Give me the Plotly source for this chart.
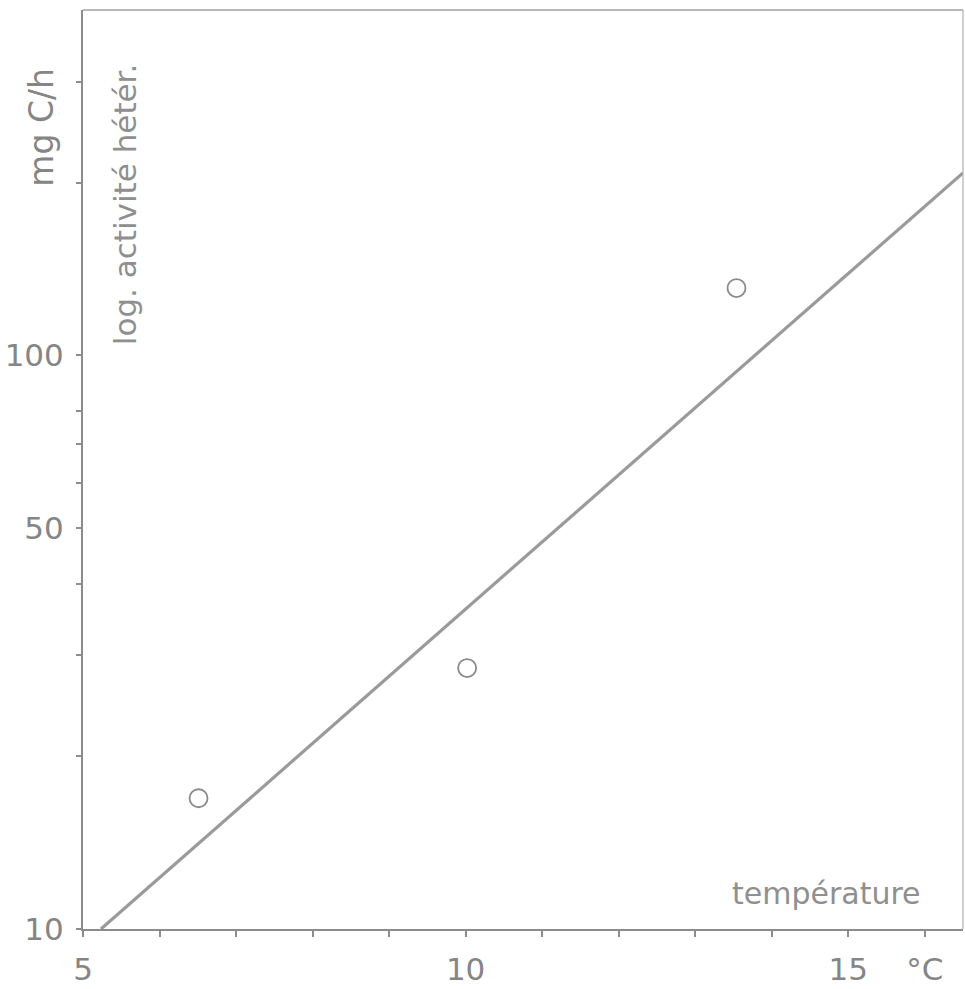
import plotly.graph_objects as go

# data
temp_points = [6.51, 10.02, 13.54]
activity_points = [16.9, 28.5, 131.0]
fit_temp = [5.235, 16.5]
fit_activity = [10.0, 208.0]

x_tick_vals = [5, 6, 7, 8, 9, 10, 11, 12, 13, 14, 15, 16]
x_tick_text = ["5", "", "", "", "", "10", "", "", "", "", "15", "°C"]
y_tick_vals = [10, 20, 30, 40, 50, 60, 70, 80, 100, 200, 300]
y_tick_text = ["10", "", "", "", "50", "", "", "", "100", "", ""]

GRAY = "#8c8c8c"
TXT = "#858585"
FONT = "DejaVu Sans"

fig = go.Figure()
fig.add_trace(go.Scatter(x=fit_temp, y=fit_activity, mode="lines",
                         line=dict(color="#9a9a9a", width=3.2), showlegend=False))
fig.add_trace(go.Scatter(x=temp_points, y=activity_points, mode="markers",
                         marker=dict(symbol="circle-open", size=18, color="#8a8a8a",
                                     line=dict(width=1.8, color="#8a8a8a")),
                         showlegend=False))

fig.update_layout(
    width=965, height=989,
    margin=dict(l=83, r=2, t=10, b=56),
    paper_bgcolor="white", plot_bgcolor="white",
    font=dict(family=FONT, color=TXT),
    xaxis=dict(range=[5, 16.5], tickvals=x_tick_vals, ticktext=x_tick_text,
               showgrid=False, zeroline=False, showline=True, mirror=False,
               linecolor=GRAY, linewidth=2, ticks="outside", ticklen=6,
               tickcolor=GRAY, tickwidth=1.5, ticklabelstandoff=6,
               tickfont=dict(size=31, color=TXT)),
    yaxis=dict(type="log", range=[1, 2.602], tickvals=y_tick_vals, ticktext=y_tick_text,
               showgrid=False, zeroline=False, showline=True, mirror=False,
               linecolor=GRAY, linewidth=2, ticks="outside", ticklen=5,
               tickcolor=GRAY, tickwidth=1.5, ticklabelstandoff=6,
               tickfont=dict(size=31, color=TXT)),
    shapes=[
        dict(type="line", xref="paper", yref="paper", x0=0, x1=1, y0=1, y1=1,
             line=dict(color="#a0a0a0", width=1.3)),
        dict(type="line", xref="paper", yref="paper", x0=1, x1=1, y0=0, y1=1,
             line=dict(color="#b0b0b0", width=1.2)),
    ],
    annotations=[
        dict(text="mg C/h", xref="paper", yref="paper", x=-0.0466, y=0.873,
             textangle=-90, showarrow=False, font=dict(size=33, color=TXT),
             xanchor="center", yanchor="middle"),
        dict(text="log. activité hétér.", xref="paper", yref="paper", x=0.048, y=0.789,
             textangle=-90, showarrow=False, font=dict(size=31, color="#8f8f8f"),
             xanchor="center", yanchor="middle"),
        dict(text="température", xref="paper", yref="paper", x=0.845, y=0.039,
             showarrow=False, font=dict(size=30, color="#8f8f8f"),
             xanchor="center", yanchor="middle"),
    ],
)

fig.write_html(
    "out.html",
    config={"displayModeBar": False},
    post_script="document.documentElement.style.overflow='hidden';"
                "document.body.style.margin='0';document.body.style.overflow='hidden';",
)
